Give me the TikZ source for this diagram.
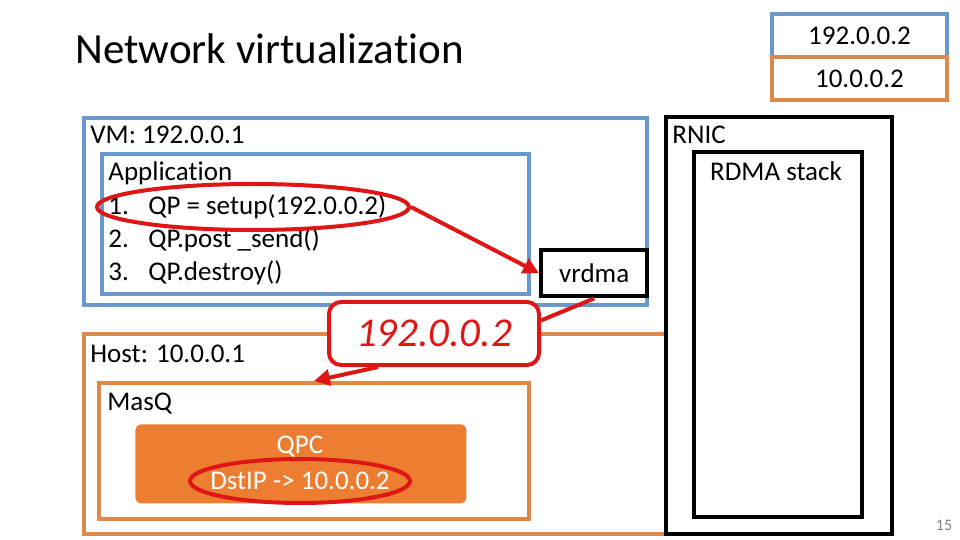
\documentclass[tikz,border=0pt]{standalone}
\usepackage{fontspec}
\setmainfont{Carlito}[Ligatures=NoCommon]
\usetikzlibrary{arrows.meta,shapes.geometric}
\definecolor{vmblue}{RGB}{104,152,204}
\definecolor{hostorange}{RGB}{222,136,76}
\definecolor{qpcfill}{RGB}{237,125,49}
\definecolor{markred}{RGB}{222,22,22}
\begin{document}
\begin{tikzpicture}[x=0.5pt,y=-0.5pt,
	bluebox/.style={draw=vmblue, line width=2pt, anchor=north west, inner sep=0},
	orangebox/.style={draw=hostorange, line width=2pt, anchor=north west, inner sep=0},
	blackbox/.style={draw=black, line width=2.2pt, anchor=north west, inner sep=0},
	txt/.style={anchor=base west, inner sep=0, font=\fontsize{13.5}{16}\selectfont},
	ring/.style={ellipse, draw=markred, line width=2pt, inner sep=0},
	redarrow/.style={draw=markred, line width=2pt, -{Triangle[length=8pt,width=8pt]}}]
	\useasboundingbox (0,0) rectangle (960,540);
	
	\node[anchor=base west, inner sep=0, font=\fontsize{21.5}{24}\selectfont] (title) at (75,64) {Network virtualization};
	
	% addresses of the peer
	\node[bluebox, minimum width=87.5pt, minimum height=21.5pt] (peervm) at (770,12) {};
	\node[orangebox, minimum width=87.5pt, minimum height=21.5pt] (peerhost) at (770,55) {};
	\node[font=\fontsize{13.5}{16}\selectfont] (peervmip) at (peervm.center) {192.0.0.2};
	\node[font=\fontsize{13.5}{16}\selectfont] (peerhostip) at (peerhost.center) {10.0.0.2};
	
	% virtual machine
	\node[bluebox, minimum width=281.5pt, minimum height=93.5pt] (vm) at (82,116) {};
	\node[txt] (vmlabel) at (90,144) {VM: 192.0.0.1};
	\node[bluebox, minimum width=213.5pt, minimum height=70pt] (app) at (100,152) {};
	\node[txt] (applabel) at (108,181) {Application};
	\node[txt] (n1) at (108,215) {1.};
	\node[txt] (s1) at (148,215) {QP = setup(192.0.0.2)};
	\node[txt] (n2) at (108,248) {2.};
	\node[txt] (s2) at (148,248) {QP.post \_send()};
	\node[txt] (n3) at (108,281) {3.};
	\node[txt] (s3) at (148,281) {QP.destroy()};
	
	% host
	\node[orangebox, minimum width=291pt, minimum height=100pt] (host) at (82,332) {};
	\node[txt] (hostlabel) at (90,363) {Host: 10.0.0.1};
	\node[orangebox, minimum width=215pt, minimum height=68pt] (masq) at (97,381) {};
	\node[txt] (masqlabel) at (107,410) {MasQ};
	\node[fill=qpcfill, rounded corners=3pt, anchor=north west, minimum width=165.5pt, minimum height=39.5pt] (qpc) at (135,424) {};
	\node[text=white, font=\fontsize{13.5}{16}\selectfont] (qpclabel) at (300,447) {QPC};
	\node[text=white, font=\fontsize{13.5}{16}\selectfont] (dst) at (300,481) {DstIP -> 10.0.0.2};
	
	% RNIC
	\node[blackbox, fill=white, minimum width=113pt, minimum height=208.5pt] (rnic) at (664,115) {};
	\node[txt] (rniclabel) at (672,144) {RNIC};
	\node[blackbox, minimum width=84pt, minimum height=182.5pt] (stack) at (692,150) {};
	\node[font=\fontsize{13.5}{16}\selectfont] (stacklabel) at (776,171) {RDMA stack};
	
	\node[blackbox, fill=white, minimum width=53pt, minimum height=23pt] (vrdma) at (539,248) {};
	\node[font=\fontsize{13.5}{16}\selectfont] (vrdmalabel) at (vrdma.center) {vrdma};
	
	% marks
	\node[ring, minimum width=156pt, minimum height=23pt] (sel) at (253,207) {};
	\node[ring, minimum width=110pt, minimum height=22pt] (dsel) at (300,481) {};
	\draw[redarrow] (sel.east) -- (vrdma.west);
	
	\node[draw=markred, fill=white, line width=2pt, rounded corners=6pt, anchor=north west, minimum width=105pt, minimum height=31.5pt] (callout) at (327,300) {};
	\node[text=markred, font=\fontsize{20.5}{22}\selectfont\itshape] (calloutip) at (callout.center) {192.0.0.2};
	\draw[markred, line width=2pt] ([yshift=6.5pt]callout.east) -- (vrdma.south);
	\draw[redarrow] ([xshift=-28pt]callout.south) -- (masq.north);
	
	\node[text=gray, font=\fontsize{8}{9}\selectfont] (page) at (944,525) {15};
\end{tikzpicture}
\end{document}
